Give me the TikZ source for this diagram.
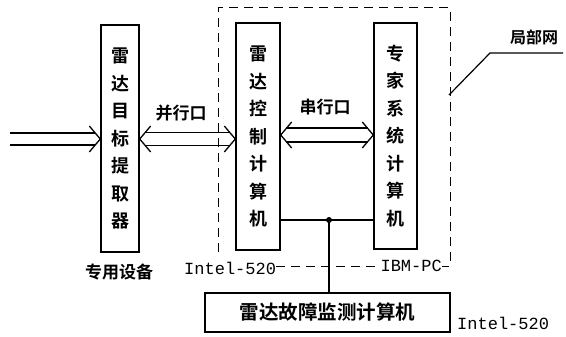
\documentclass[tikz,border=0pt]{standalone}
\usepackage{fontspec}
\usetikzlibrary{calc}
\newfontfamily\cjk{Noto Sans CJK SC}[BoldFont={* Bold}]
\newfontfamily\monof{Liberation Mono}
\tikzset{
  blk/.style={draw, line width=1.4pt, inner sep=0pt},
  vtext/.style={blk, align=center, font=\cjk\bfseries\fontsize{18}{27.5}\selectfont},
  lbl/.style={font=\cjk\bfseries\fontsize{17}{20}\selectfont, inner sep=0pt},
  mlbl/.style={font=\monof\fontsize{17}{20}\selectfont, inner sep=0pt},
  conn/.style={line width=1.3pt},
  dsh/.style={line width=1pt, dash pattern=on 9pt off 6pt}
}
\newcommand\chev[2]{\draw[conn] ($(#1)+(#2*11,-13)$) -- (#1) -- ($(#1)+(#2*11,13)$);}
\begin{document}
\begin{tikzpicture}[x=1pt,y=-1pt]
\useasboundingbox (0,0) rectangle (566,337);
% boxes
\node[vtext, minimum width=38pt, minimum height=227pt] (b1) at (120,138.5) {雷\\达\\目\\标\\提\\取\\器};
\node[vtext, minimum width=44pt, minimum height=227pt] (b2) at (258,136.5) {雷\\达\\控\\制\\计\\算\\机};
\node[vtext, minimum width=43pt, minimum height=226pt] (b3) at (395.5,136) {专\\家\\系\\统\\计\\算\\机};
\node[blk, minimum width=245pt, minimum height=39pt, font=\cjk\bfseries\fontsize{19.5}{22}\selectfont] (b4) at (327.5,312.5) {雷达故障监测计算机};
% labels
\node[lbl] (l1) at (119,272) {专用设备};
\node[mlbl, anchor=west] (l2) at (184,268) {Intel-520};
\node[mlbl, anchor=east] (l3) at (442,266) {IBM-PC};
\node[mlbl, anchor=west] (l4) at (457,323) {Intel-520};
\node[lbl] (l5) at (181,113) {并行口};
\node[lbl] (l6) at (325,107) {串行口};
\node[lbl, font=\cjk\bfseries\fontsize{16}{18}\selectfont] (l7) at (534,37) {局部网};
% dashed enclosure
\draw[dsh] (218,252) -- (218,8) -- (450,8) -- (450,266) -- (l3.east |- 0,266);
\draw[dsh] (l2.east |- 0,266) -- (l3.west |- 0,266);
% leader to 局部网
\coordinate (lnA) at (449,95);
\coordinate (lnB) at (490,53);
\coordinate (lnC) at (563,53);
\draw[line width=1.2pt] (lnA) -- (lnB) -- (lnC);
% input wide arrow
\coordinate (inTip) at ($(b1.west)+(0,0.5)$);
\coordinate (inStart) at (10,139);
\draw[conn] ($(inStart)+(0,-6)$) -- ($(inTip)+(-5,-6)$);
\draw[conn] ($(inStart)+(0,6)$) -- ($(inTip)+(-5,6)$);
\chev{inTip}{-1}
% parallel port wide arrow
\coordinate (pA) at ($(b1.east)+(0,0.5)$);
\coordinate (pB) at ($(b2.west)+(0,2.5)$);
\draw[conn] ($(pA)+(5.5,-6.5)$) -- ($(pB)+(-5.5,-6.5)$);
\draw[conn] ($(pA)+(5.5,6.5)$) -- ($(pB)+(-5.5,6.5)$);
\chev{pA}{1}
\chev{pB}{-1}
% serial port wide arrow
\coordinate (sA) at ($(b2.east)+(0,-1.5)$);
\coordinate (sB) at ($(b3.west)+(0,-1)$);
\draw[conn] ($(sA)+(5.5,-7)$) -- ($(sB)+(-5.5,-7)$);
\draw[conn] ($(sA)+(5.5,7)$) -- ($(sB)+(-5.5,7)$);
\chev{sA}{1}
\chev{sB}{-1}
% bus to monitor computer
\coordinate (j) at (329,220);
\draw[conn] (b2.east |- j) -- (b3.west |- j);
\fill (j) circle (3pt);
\draw[line width=1.1pt] (j) -- (j |- b4.north);
\end{tikzpicture}
\end{document}
